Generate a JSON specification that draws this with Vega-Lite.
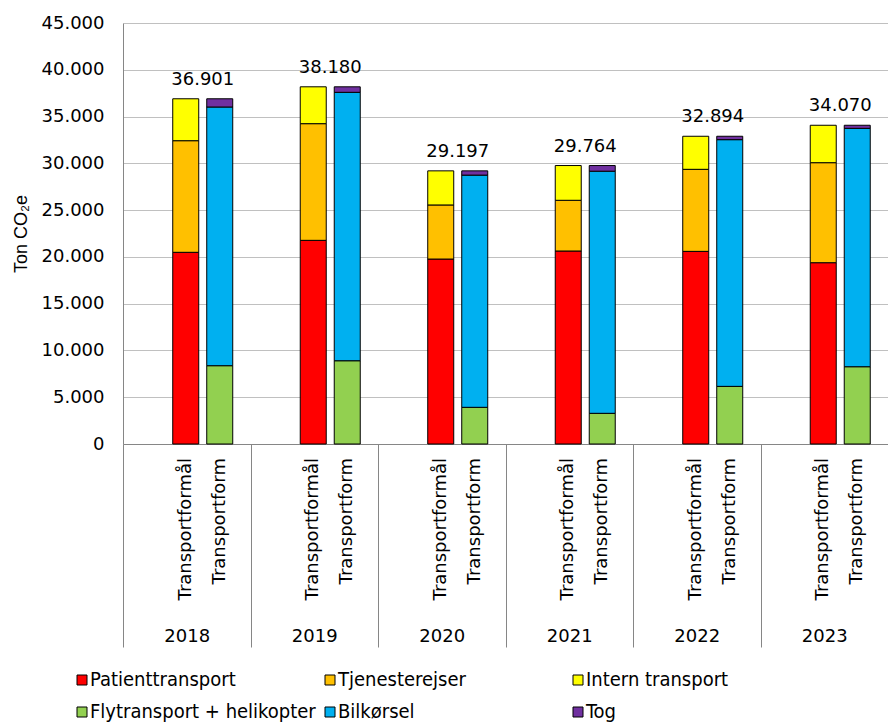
{
  "$schema": "https://vega.github.io/schema/vega-lite/v6.json",
  "width": 765,
  "height": 421,
  "autosize": {"type": "none"},
  "padding": {"left": 123, "top": 23, "right": 0, "bottom": 283},
  "config": {
    "locale": {
      "number": {"decimal": ",", "thousands": ".", "grouping": [3], "currency": ["", " kr."]}
    },
    "view": {"stroke": null},
    "font": "DejaVu Sans",
    "text": {"font": "DejaVu Sans", "fontSize": 18, "color": "#000"}
  },
  "data": {
    "values": [
      {"aar": "2018", "opgoerelse": "Transportformål", "kategori": "Patienttransport", "ton": 20490},
      {"aar": "2018", "opgoerelse": "Transportformål", "kategori": "Tjenesterejser", "ton": 11930},
      {"aar": "2018", "opgoerelse": "Transportformål", "kategori": "Intern transport", "ton": 4481},
      {"aar": "2018", "opgoerelse": "Transportform", "kategori": "Flytransport + helikopter", "ton": 8370},
      {"aar": "2018", "opgoerelse": "Transportform", "kategori": "Bilkørsel", "ton": 27650},
      {"aar": "2018", "opgoerelse": "Transportform", "kategori": "Tog", "ton": 881},

      {"aar": "2019", "opgoerelse": "Transportformål", "kategori": "Patienttransport", "ton": 21770},
      {"aar": "2019", "opgoerelse": "Transportformål", "kategori": "Tjenesterejser", "ton": 12470},
      {"aar": "2019", "opgoerelse": "Transportformål", "kategori": "Intern transport", "ton": 3940},
      {"aar": "2019", "opgoerelse": "Transportform", "kategori": "Flytransport + helikopter", "ton": 8900},
      {"aar": "2019", "opgoerelse": "Transportform", "kategori": "Bilkørsel", "ton": 28690},
      {"aar": "2019", "opgoerelse": "Transportform", "kategori": "Tog", "ton": 590},

      {"aar": "2020", "opgoerelse": "Transportformål", "kategori": "Patienttransport", "ton": 19770},
      {"aar": "2020", "opgoerelse": "Transportformål", "kategori": "Tjenesterejser", "ton": 5780},
      {"aar": "2020", "opgoerelse": "Transportformål", "kategori": "Intern transport", "ton": 3647},
      {"aar": "2020", "opgoerelse": "Transportform", "kategori": "Flytransport + helikopter", "ton": 3920},
      {"aar": "2020", "opgoerelse": "Transportform", "kategori": "Bilkørsel", "ton": 24820},
      {"aar": "2020", "opgoerelse": "Transportform", "kategori": "Tog", "ton": 457},

      {"aar": "2021", "opgoerelse": "Transportformål", "kategori": "Patienttransport", "ton": 20630},
      {"aar": "2021", "opgoerelse": "Transportformål", "kategori": "Tjenesterejser", "ton": 5420},
      {"aar": "2021", "opgoerelse": "Transportformål", "kategori": "Intern transport", "ton": 3714},
      {"aar": "2021", "opgoerelse": "Transportform", "kategori": "Flytransport + helikopter", "ton": 3280},
      {"aar": "2021", "opgoerelse": "Transportform", "kategori": "Bilkørsel", "ton": 25880},
      {"aar": "2021", "opgoerelse": "Transportform", "kategori": "Tog", "ton": 604},

      {"aar": "2022", "opgoerelse": "Transportformål", "kategori": "Patienttransport", "ton": 20590},
      {"aar": "2022", "opgoerelse": "Transportformål", "kategori": "Tjenesterejser", "ton": 8770},
      {"aar": "2022", "opgoerelse": "Transportformål", "kategori": "Intern transport", "ton": 3534},
      {"aar": "2022", "opgoerelse": "Transportform", "kategori": "Flytransport + helikopter", "ton": 6160},
      {"aar": "2022", "opgoerelse": "Transportform", "kategori": "Bilkørsel", "ton": 26370},
      {"aar": "2022", "opgoerelse": "Transportform", "kategori": "Tog", "ton": 364},

      {"aar": "2023", "opgoerelse": "Transportformål", "kategori": "Patienttransport", "ton": 19380},
      {"aar": "2023", "opgoerelse": "Transportformål", "kategori": "Tjenesterejser", "ton": 10690},
      {"aar": "2023", "opgoerelse": "Transportformål", "kategori": "Intern transport", "ton": 4000},
      {"aar": "2023", "opgoerelse": "Transportform", "kategori": "Flytransport + helikopter", "ton": 8260},
      {"aar": "2023", "opgoerelse": "Transportform", "kategori": "Bilkørsel", "ton": 25480},
      {"aar": "2023", "opgoerelse": "Transportform", "kategori": "Tog", "ton": 330}
    ]
  },
  "layer": [
    {
      "transform": [
        {
          "calculate": "indexof(['Patienttransport', 'Tjenesterejser', 'Intern transport', 'Flytransport + helikopter', 'Bilkørsel', 'Tog'], datum.kategori)",
          "as": "stakrang"
        }
      ],
      "mark": {"type": "bar", "stroke": "#000", "strokeWidth": 1},
      "encoding": {
        "x": {
          "field": "aar",
          "type": "nominal",
          "scale": {"paddingInner": 0, "paddingOuter": 0},
          "axis": {
            "title": null,
            "labelAngle": 0,
            "tickBand": "extent",
            "tickSize": 203,
            "tickColor": "#868686",
            "tickWidth": 1,
            "domainColor": "#868686",
            "domainWidth": 1,
            "labelPadding": -20,
            "labelFont": "DejaVu Sans",
            "labelFontSize": 18,
            "labelColor": "#000",
            "grid": false
          }
        },
        "xOffset": {
          "field": "opgoerelse",
          "type": "nominal",
          "sort": ["Transportformål", "Transportform"],
          "scale": {"paddingInner": 0.2353, "paddingOuter": 0.9926, "align": 0.737}
        },
        "y": {
          "field": "ton",
          "type": "quantitative",
          "stack": "zero",
          "scale": {"domain": [0, 45000], "nice": false},
          "axis": {
            "title": "Ton CO₂e",
            "titleFont": "Liberation Sans",
            "titleFontSize": 18,
            "titleFontWeight": "normal",
            "titleColor": "#000",
            "titlePadding": 11,
            "values": [0, 5000, 10000, 15000, 20000, 25000, 30000, 35000, 40000, 45000],
            "format": ",d",
            "grid": true,
            "gridColor": "#c0c0c0",
            "gridWidth": 1,
            "ticks": false,
            "domainColor": "#868686",
            "domainWidth": 1,
            "labelFont": "DejaVu Sans",
            "labelFontSize": 18,
            "labelPadding": 19,
            "labelColor": "#000"
          }
        },
        "order": {"field": "stakrang", "type": "quantitative", "sort": "ascending"},
        "color": {
          "field": "kategori",
          "type": "nominal",
          "sort": ["Patienttransport", "Tjenesterejser", "Intern transport", "Flytransport + helikopter", "Bilkørsel", "Tog"],
          "scale": {
            "domain": ["Patienttransport", "Tjenesterejser", "Intern transport", "Flytransport + helikopter", "Bilkørsel", "Tog"],
            "range": ["#FF0000", "#FFC000", "#FFFF00", "#92D050", "#00B0F0", "#7030A0"]
          },
          "legend": {
            "title": null,
            "orient": "none",
            "legendX": -51,
            "legendY": 647,
            "direction": "horizontal",
            "columns": 3,
            "gridAlign": "all",
            "columnPadding": 4,
            "rowPadding": 12,
            "symbolType": "square",
            "symbolSize": 100,
            "symbolStrokeColor": "#000",
            "symbolStrokeWidth": 1,
            "labelFont": "DejaVu Sans Condensed",
            "labelFontSize": 20,
            "labelOffset": -2,
            "labelColor": "#000",
            "labelLimit": 400
          }
        }
      }
    },
    {
      "transform": [
        {"aggregate": [{"op": "sum", "field": "ton", "as": "ton"}], "groupby": ["aar", "opgoerelse"]}
      ],
      "mark": {"type": "text", "angle": 270, "align": "right", "baseline": "middle", "dx": -14},
      "encoding": {
        "x": {"field": "aar", "type": "nominal"},
        "xOffset": {"field": "opgoerelse", "type": "nominal", "sort": ["Transportformål", "Transportform"]},
        "y": {"datum": 0, "type": "quantitative"},
        "text": {"field": "opgoerelse"}
      }
    },
    {
      "transform": [
        {"filter": "datum.opgoerelse === 'Transportformål'"},
        {"aggregate": [{"op": "sum", "field": "ton", "as": "ton"}], "groupby": ["aar"]}
      ],
      "mark": {"type": "text", "baseline": "alphabetic", "dy": -14, "dx": 16},
      "encoding": {
        "x": {"field": "aar", "type": "nominal"},
        "y": {"field": "ton", "type": "quantitative"},
        "text": {"field": "ton", "type": "quantitative", "format": ",d"}
      }
    }
  ]
}
